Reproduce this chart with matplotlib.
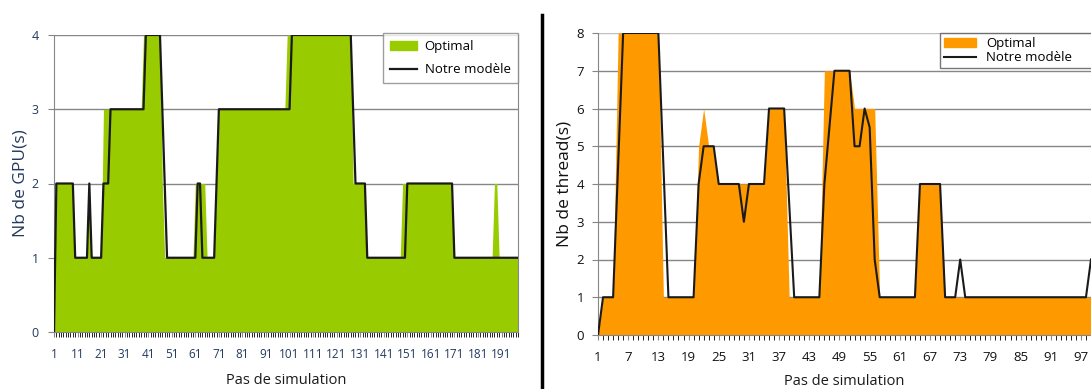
import numpy as np
from matplotlib import pyplot as plt
from matplotlib.patches import Patch
from matplotlib.lines import Line2D

plt.rcParams['font.family'] = ['Open Sans', 'DejaVu Sans']

# ============================================================
# DATA - left chart (GPU), runs of (value, count)
# ============================================================
gpu_model_runs = [(0, 1), (2, 8), (1, 6), (2, 1), (1, 5), (2, 3), (3, 15), (4, 7),
                  (3, 1), (2, 1), (1, 13), (2, 2), (1, 6), (2, 1), (3, 31), (4, 26),
                  (3, 1), (2, 5), (1, 17), (2, 20), (1, 28)]
gpu_optimal_runs = [(0, 1), (2, 8), (1, 6), (2, 1), (1, 5), (3, 17), (4, 8), (2, 1),
                    (1, 13), (2, 5), (1, 4), (2, 1), (3, 29), (4, 28), (2, 6), (1, 15),
                    (2, 22), (1, 17), (2, 2), (1, 9)]

gpu_model = np.repeat([v for v, n in gpu_model_runs], [n for v, n in gpu_model_runs])
gpu_optimal = np.repeat([v for v, n in gpu_optimal_runs], [n for v, n in gpu_optimal_runs])
gpu_steps = np.arange(1, len(gpu_model) + 1)

# ============================================================
# DATA - right chart (threads)
# ============================================================
thread_model = [0, 1, 1, 1, 4.5, 8, 8, 8, 8, 8, 8, 8, 8, 4.5, 1, 1, 1, 1, 1, 1,
                4, 5, 5, 5, 4, 4, 4, 4, 4, 3, 4, 4, 4, 4, 6, 6, 6, 6, 3.5, 1,
                1, 1, 1, 1, 1, 4, 5.5, 7, 7, 7, 7, 5, 5, 6, 5.5, 2, 1, 1, 1, 1,
                1, 1, 1, 1, 4, 4, 4, 4, 4, 1, 1, 1, 2, 1, 1, 1, 1, 1, 1, 1,
                1, 1, 1, 1, 1, 1, 1, 1, 1, 1, 1, 1, 1, 1, 1, 1, 1, 1, 2]
thread_optimal = [0, 1, 1, 1, 8, 8, 8, 8, 8, 8, 8, 8, 8, 1, 1, 1, 1, 1, 1, 1,
                  5, 6, 5, 5, 4, 4, 4, 4, 4, 4, 4, 4, 4, 4, 6, 6, 6, 6, 1, 1,
                  1, 1, 1, 1, 1, 7, 7, 7, 7, 7, 7, 6, 6, 6, 6, 6, 1, 1, 1, 1,
                  1, 1, 1, 1, 4, 4, 4, 4, 4, 1, 1, 1, 1, 1, 1, 1, 1, 1, 1, 1,
                  1, 1, 1, 1, 1, 1, 1, 1, 1, 1, 1, 1, 1, 1, 1, 1, 1, 1, 1]
thread_steps = np.arange(1, len(thread_model) + 1)

GREEN = '#99cc00'
ORANGE = '#ff9900'
GRID = '#868686'
W, H = 1091, 389


def px_axes(fig, left, top, right, bottom):
    """add axes from pixel box (origin top-left)"""
    return fig.add_axes([left / W, 1 - bottom / H, (right - left) / W, (bottom - top) / H])


def style_axes(ax, color):
    ax.set_axisbelow(True)
    ax.grid(axis='y', color=GRID, linewidth=1)
    ax.spines['top'].set_visible(False)
    for s in ('left', 'bottom', 'right'):
        ax.spines[s].set_color(GRID)
    ax.tick_params(axis='both', colors=GRID, labelcolor=color)
    ax.tick_params(axis='x', which='both', direction='out', length=3.5)
    ax.tick_params(axis='y', direction='out', length=4)


fig = plt.figure(figsize=(W / 100, H / 100), dpi=100)

# ============================================================
# LEFT: GPU
# ============================================================
ax1 = px_axes(fig, 54, 35, 518, 332)
ax1.fill_between(gpu_steps, 0, gpu_optimal, color=GREEN, linewidth=0, zorder=2)
ax1.plot(gpu_steps, gpu_model, color='#1a1a1a', linewidth=1.6, zorder=3)
ax1.set_xlim(1, len(gpu_steps))
ax1.set_ylim(0, 4)
ax1.set_yticks(range(0, 5))
ax1.set_xticks(range(1, 192, 10))
ax1.set_xticks(gpu_steps, minor=True)
style_axes(ax1, '#243a5e')
ax1.tick_params(axis='x', labelsize=8.5, pad=8)
ax1.tick_params(axis='y', labelsize=9, pad=7)
ax1.set_ylabel('Nb de GPU(s)', fontsize=12.5, color='#243a5e', labelpad=2)
ax1.set_xlabel('Pas de simulation', fontsize=10.5, color='#1a1a1a', labelpad=9)

leg1 = ax1.legend(handles=[Patch(color=GREEN, label='Optimal'),
                           Line2D([], [], color='#1a1a1a', lw=1.6, label='Notre modèle')],
                  loc='upper right', bbox_to_anchor=(518 / W, 1 - 33 / H),
                  bbox_transform=fig.transFigure, fontsize=9.5, frameon=True,
                  fancybox=False, borderaxespad=0, handlelength=2.0,
                  handletextpad=0.6, handleheight=0.7, labelspacing=0.75,
                  borderpad=0.55)
leg1.get_frame().set_edgecolor(GRID)
leg1.get_frame().set_linewidth(1)

# ============================================================
# RIGHT: threads (cropped on the right like the source)
# ============================================================
ax2 = px_axes(fig, 598, 33, 1091, 335)
ax2.fill_between(thread_steps, 0, thread_optimal, color=ORANGE, linewidth=0, zorder=2)
ax2.plot(thread_steps, thread_model, color='#1a1a1a', linewidth=1.5, zorder=3)
ax2.set_xlim(1, 99)
ax2.set_ylim(0, 8)
ax2.set_yticks(range(0, 9))
ax2.set_xticks(range(1, 98, 6))
ax2.set_xticks(thread_steps, minor=True)
style_axes(ax2, '#111111')
ax2.spines['right'].set_visible(False)
ax2.get_ygridlines()[-1].set_color('#c0c0c0')
ax2.tick_params(axis='x', labelsize=9.5, pad=8)
ax2.tick_params(axis='y', labelsize=9.5, pad=6)
ax2.set_ylabel('Nb de thread(s)', fontsize=12.5, color='#111111', labelpad=3)
ax2.set_xlabel('Pas de simulation', fontsize=10.5, color='#1a1a1a', labelpad=7)

# legend box runs past the cropped right edge, as in the source
leg2 = ax2.legend(handles=[Patch(color=ORANGE, label='Optimal'),
                           Line2D([], [], color='#1a1a1a', lw=1.5, label='Notre modèle')],
                  loc='upper left', bbox_to_anchor=(940 / W, 1 - 33 / H, 170 / W, 0),
                  bbox_transform=fig.transFigure, mode='expand', fontsize=9.5,
                  frameon=True, fancybox=False, borderaxespad=0, handlelength=2.4,
                  handleheight=0.7, labelspacing=0.1, borderpad=0.3)
leg2.get_frame().set_edgecolor('#555555')
leg2.get_frame().set_linewidth(1)

# separator between the two pasted charts
fig.add_artist(Line2D([542 / W, 542 / W], [0, 1 - 15 / H], color='black',
                      linewidth=2.5, transform=fig.transFigure))

fig.savefig('out.png', dpi=100)
